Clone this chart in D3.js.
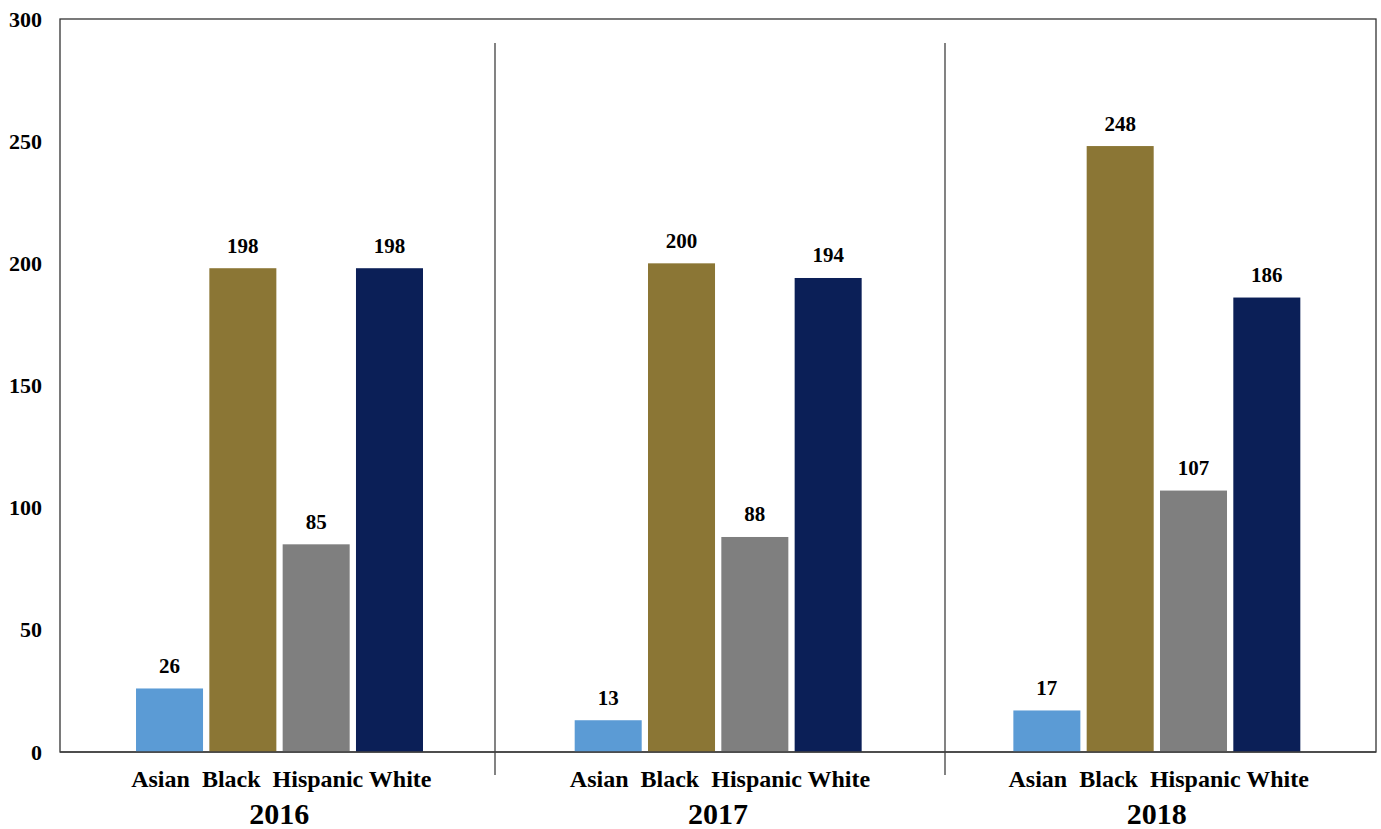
<!DOCTYPE html>
<html>
<head>
<meta charset="utf-8">
<script src="https://cdn.jsdelivr.net/npm/d3@7"></script>
<style>
  html, body { margin: 0; padding: 0; background: #fff; }
  svg { display: block; }
  text { font-family: "Liberation Serif", "Times New Roman", serif; font-weight: bold; fill: #000; }
</style>
</head>
<body>
<script>
const years = ["2016", "2017", "2018"];
const categories = ["Asian", "Black", "Hispanic", "White"];
const asian = [26, 13, 17];
const black = [198, 200, 248];
const hispanic = [85, 88, 107];
const white = [198, 194, 186];
const yTicks = [0, 50, 100, 150, 200, 250, 300];
const colors = ["#5b9bd5", "#8b7635", "#7f7f7f", "#0b1f57"];

const seriesValues = [asian, black, hispanic, white];
const data = [];
years.forEach((yr, i) => {
  categories.forEach((c, j) => data.push({ year: yr, cat: c, value: seriesValues[j][i] }));
});

const W = 1381, H = 829;
const mLeft = 60, mRight = 1376, mTop = 19, mBottom = 752;

const svg = d3.select("body").append("svg").attr("width", W).attr("height", H);

const x0 = d3.scaleBand().domain(years).range([mLeft, mRight]).padding(0);
const bw = x0.bandwidth();
const x1 = d3.scaleBand().domain(categories).range([bw * 0.1733, bw * 0.8275]).paddingInner(0.086).paddingOuter(0);
const y = d3.scaleLinear().domain([0, 300]).range([mBottom, mTop]);
const color = d3.scaleOrdinal().domain(categories).range(colors);

// frame
svg.append("rect").attr("x", mLeft).attr("y", mTop).attr("width", mRight - mLeft).attr("height", mBottom - mTop)
  .attr("fill", "none").attr("stroke", "#333").attr("stroke-width", 1.3);

// y axis labels
const yAxis = d3.axisLeft(y).tickValues(yTicks).tickSize(0).tickPadding(18);
const gy = svg.append("g").attr("transform", `translate(${mLeft},0)`).call(yAxis);
gy.select(".domain").remove();
gy.selectAll("text").style("font-family", '"Liberation Serif", "Times New Roman", serif')
  .style("font-weight", "bold").style("font-size", "22px").attr("fill", "#000");

// dividers between year groups
const dividerX = [495, 945];
svg.selectAll("line.div").data(dividerX).enter().append("line")
  .attr("x1", d => d).attr("x2", d => d).attr("y1", 43).attr("y2", 775)
  .attr("stroke", "#404040").attr("stroke-width", 1.3);

// bars
const groups = svg.selectAll("g.grp").data(years).enter().append("g")
  .attr("transform", d => `translate(${x0(d)},0)`);

groups.selectAll("rect").data(yr => data.filter(d => d.year === yr)).enter().append("rect")
  .attr("x", d => x1(d.cat)).attr("width", x1.bandwidth())
  .attr("y", d => y(d.value)).attr("height", d => y(0) - y(d.value))
  .attr("fill", d => color(d.cat));

groups.selectAll("text.val").data(yr => data.filter(d => d.year === yr)).enter().append("text")
  .attr("class", "val")
  .attr("x", d => x1(d.cat) + x1.bandwidth() / 2)
  .attr("y", d => y(d.value) - 15.5)
  .attr("text-anchor", "middle").style("font-size", "21px")
  .text(d => d.value);

// bottom axis line over bars
svg.append("line").attr("x1", mLeft).attr("x2", mRight).attr("y1", mBottom).attr("y2", mBottom)
  .attr("stroke", "#404040").attr("stroke-width", 1.3);

// category labels
groups.append("text")
  .attr("x", bw / 2 + 2).attr("y", 787)
  .attr("text-anchor", "middle").style("font-size", "24px").style("white-space", "pre")
  .text(categories.join("  ").replace("Hispanic  White", "Hispanic White"));

// year labels
groups.append("text")
  .attr("x", bw / 2).attr("y", 824)
  .attr("text-anchor", "middle").style("font-size", "30px")
  .text(d => d);
</script>
</body>
</html>
